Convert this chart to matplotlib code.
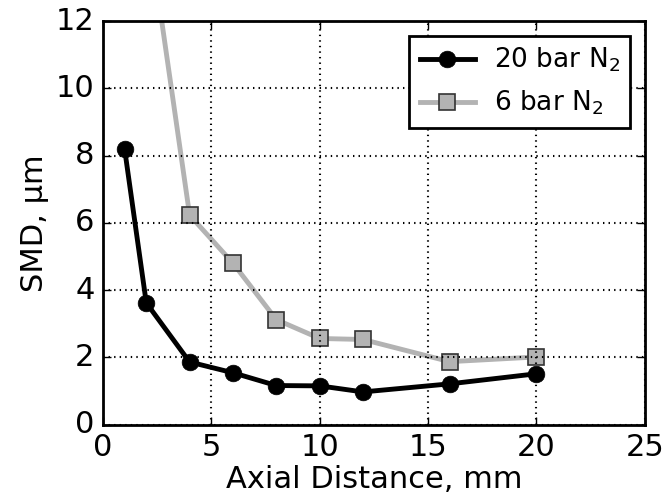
import matplotlib
matplotlib.use("Agg")
from matplotlib import pyplot as plt

# SMD vs axial distance
x_20bar = [1, 2, 4, 6, 8, 10, 12, 16, 20]
smd_20bar = [8.2, 3.62, 1.86, 1.54, 1.16, 1.15, 0.97, 1.21, 1.51]
x_6bar = [2, 4, 6, 8, 10, 12, 16, 20]
smd_6bar = [15.2, 6.23, 4.8, 3.12, 2.56, 2.53, 1.87, 2.01]

plt.style.use("classic")
plt.rcParams["font.family"] = "DejaVu Sans"
plt.rcParams["mathtext.fontset"] = "custom"
plt.rcParams["mathtext.rm"] = "DejaVu Sans"

fig = plt.figure(figsize=(6.64, 5.03), dpi=100)
ax = fig.add_axes([0.155, 0.156, 0.816, 0.802])

ax.plot(x_20bar, smd_20bar, color="black", lw=3.5, marker="o", ms=12,
        mfc="black", mec="black", label="20 bar N$_\\mathrm{2}$")
ax.plot(x_6bar, smd_6bar, color="#b3b3b3", lw=3.5, marker="s", ms=12,
        mfc="#b3b3b3", mec="#333333", mew=1.2, label="6 bar N$_\\mathrm{2}$")

ax.set_xlim(0, 25)
ax.set_ylim(0, 12)
ax.set_xticks(range(0, 26, 5))
ax.set_yticks(range(0, 13, 2))
ax.tick_params(labelsize=22, direction="in", length=6, width=1, pad=6)
ax.grid(True, color="black", linestyle=":", linewidth=1.5)
for s in ax.spines.values():
    s.set_linewidth(2)

ax.set_xlabel("Axial Distance, mm", fontsize=22, labelpad=2)
ax.set_ylabel("SMD, \u00b5m", fontsize=22)
ax.legend(loc="upper right", fontsize=19, numpoints=1, handlelength=2.1,
          handletextpad=0.7, labelspacing=0.55, frameon=True, fancybox=False,
          borderaxespad=0.55).get_frame().set_linewidth(2)

fig.savefig("out.png", dpi=100)
plt.close(fig)
